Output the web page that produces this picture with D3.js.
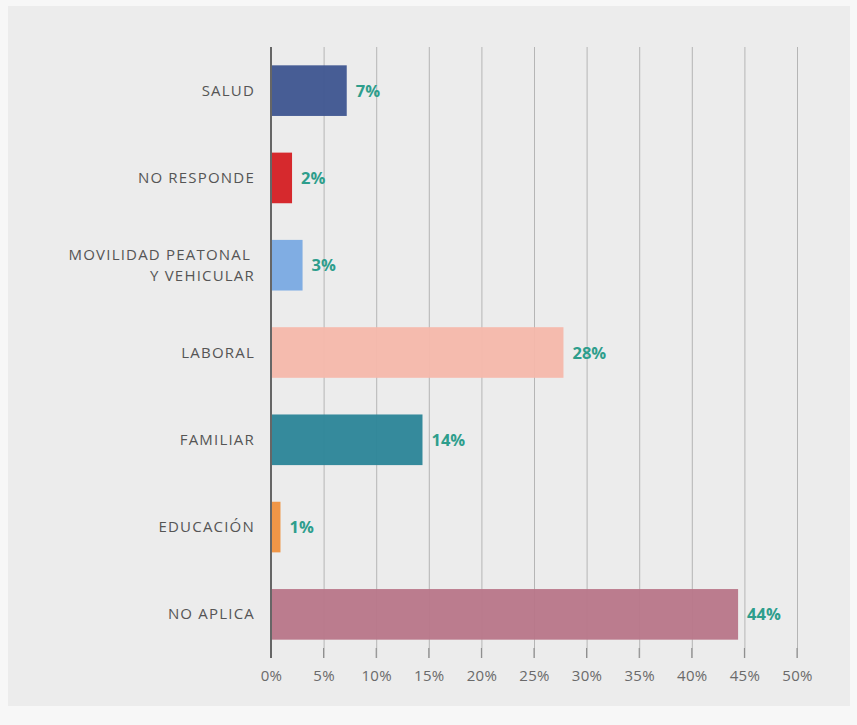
<!DOCTYPE html>
<html><head><meta charset="utf-8">
<script src="https://cdn.jsdelivr.net/npm/d3@7"></script>
<style>
html,body{margin:0;padding:0;background:#f7f7f7;}
svg{display:block;}
</style></head>
<body><svg id="c" width="857" height="725"></svg>
<script>
const categories = [["SALUD"],["NO RESPONDE"],["MOVILIDAD PEATONAL","Y VEHICULAR"],["LABORAL"],["FAMILIAR"],["EDUCACIÓN"],["NO APLICA"]];
const values = [7.2, 2.0, 3.0, 27.8, 14.4, 0.9, 44.4];
const valueLabels = ["7%","2%","3%","28%","14%","1%","44%"];
const colors = ["#3e5590","#d51f23","#7aaae3","#f6b8ab","#2b8598","#f0913e","#b87689"];
const ticks = [0,5,10,15,20,25,30,35,40,45,50];

const FONT = "'Open Sans', 'Noto Sans', sans-serif";
const svg = d3.select("#c");
svg.append("rect").attr("x",8).attr("y",6).attr("width",842).attr("height",700).attr("fill","#ececec");

const x = d3.scaleLinear().domain([0,50]).range([271,797]);
const y = d3.scaleBand().domain(d3.range(categories.length)).range([47,658]).paddingInner(0.42).paddingOuter(0.21);

// grid
const ax = svg.append("g").attr("transform","translate(0,658)")
  .call(d3.axisBottom(x).tickValues(ticks).tickFormat(d=>d+"%").tickSize(-611).tickPadding(12));
ax.select(".domain").remove();
ax.selectAll(".tick line").attr("stroke","#b5b5b5").attr("stroke-width",1).attr("y2",0).attr("y1",-611);
ax.selectAll(".tick text").attr("fill","#6a6a6a").attr("font-family",FONT)
  .attr("font-size",15).attr("letter-spacing","0.3px");
svg.append("g").selectAll("line").data(ticks).join("line")
  .attr("x1",d=>x(d)).attr("x2",d=>x(d)).attr("y1",648).attr("y2",658).attr("stroke","#888");

// bars
svg.append("g").selectAll("rect").data(values).join("rect")
  .attr("x",x(0)).attr("y",(d,i)=>y(i)).attr("width",d=>x(d)-x(0)).attr("height",y.bandwidth())
  .attr("fill",(d,i)=>colors[i]).attr("opacity",0.95);

// axis line
svg.append("line").attr("x1",x(0)).attr("x2",x(0)).attr("y1",47).attr("y2",658)
  .attr("stroke","#666").attr("stroke-width",2);

// category labels
const LH = 21;
const cl = svg.append("g").selectAll("text").data(categories).join("text")
  .attr("text-anchor","end").attr("fill","#555")
  .attr("font-family",FONT).attr("font-size",15).attr("letter-spacing","1.2px")
  .attr("y",(d,i)=>y(i)+y.bandwidth()/2 - (d.length-1)*LH/2 + 5);
cl.each(function(d){
  const t=d3.select(this);
  d.forEach((s,k)=>t.append("tspan").attr("x",k===0 && d.length>1 ? 251 : 255).attr("dy",k===0?0:LH).text(s));
});

// value labels
svg.append("g").selectAll("text").data(values).join("text")
  .attr("x",d=>x(d)+9).attr("y",(d,i)=>y(i)+y.bandwidth()/2+6)
  .attr("fill","#2e9e8c").attr("font-weight","bold").attr("font-size",16.5)
  .attr("font-family",FONT)
  .text((d,i)=>valueLabels[i]);
</script></body></html>
